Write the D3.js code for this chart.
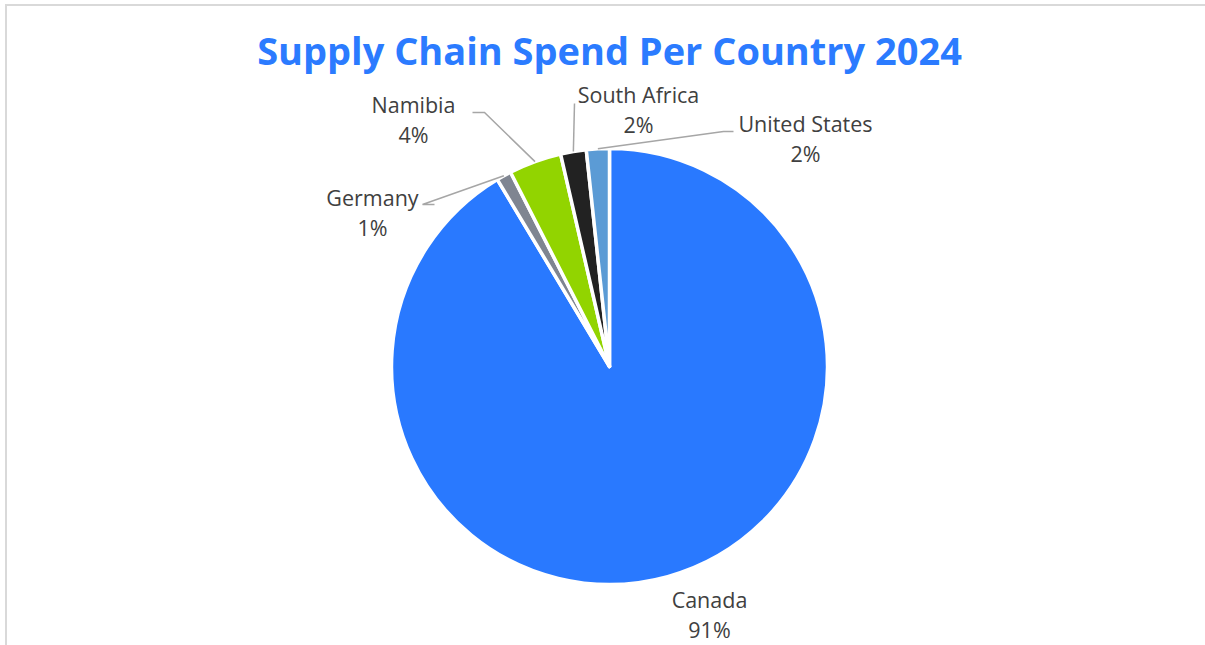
<!DOCTYPE html>
<html>
<head>
<meta charset="utf-8">
<script src="https://cdn.jsdelivr.net/npm/d3@7"></script>
<style>
  html, body { margin: 0; padding: 0; background: #fff; }
  svg { display: block; }
</style>
</head>
<body>
<svg id="chart" width="1205" height="645"></svg>
<script>
// ---- data ----
const title = "Supply Chain Spend Per Country 2024";
const countries = ["Canada", "Germany", "Namibia", "South Africa", "United States"];
const shares = [91.4, 1.1, 3.9, 1.9, 1.7];
const colors = ["#2979FF", "#7F8591", "#92D400", "#222222", "#5B9BD5"];

// ---- layout (label anchors relative to pie centre; not data) ----
const labelLayout = [
  { dx: 100, dy: 241, elbow: null },                  // Canada
  { dx: -237, dy: -161, end: [-175, -162], elbow: [-187, -162] }, // Germany
  { dx: -196, dy: -254, end: [-137, -254], elbow: [-125, -254] }, // Namibia
  { dx: 29, dy: -264, end: [-35, -263], elbow: [-35, -263] },     // South Africa
  { dx: 196, dy: -235, end: [124, -235], elbow: [114, -235] }     // United States
];

const W = 1205, H = 645;
const cx = 609.5, cy = 366.5, R = 218;
const svg = d3.select("#chart");

// chart border (only top and left visible in frame)
svg.append("rect")
  .attr("x", 6).attr("y", 5)
  .attr("width", W + 20).attr("height", H + 20)
  .attr("fill", "#fff").attr("stroke", "#d9d9d9").attr("stroke-width", 2);

// title
const t = svg.append("text")
  .attr("x", cx).attr("y", 65)
  .attr("text-anchor", "middle")
  .attr("font-family", "'Open Sans', 'Noto Sans', sans-serif")
  .attr("font-weight", 700)
  .attr("fill", "#2B7BFF")
  .attr("font-size", 38)
  .text(title);
const tw = t.node().getComputedTextLength();
t.attr("font-size", 38 * 705 / tw);

const data = countries.map((c, i) => ({ name: c, value: shares[i], color: colors[i], i }));
const pie = d3.pie().value(d => d.value).sort(null);
const arcs = pie(data);
const arc = d3.arc().innerRadius(0).outerRadius(R);

const g = svg.append("g").attr("transform", `translate(${cx},${cy})`);
g.selectAll("path.slice")
  .data(arcs)
  .enter().append("path")
  .attr("class", "slice")
  .attr("d", arc)
  .attr("fill", d => d.data.color)
  .attr("stroke", "#fff")
  .attr("stroke-width", 3.5)
  .attr("stroke-linejoin", "round");

// leader lines
arcs.forEach((a, i) => {
  const L = labelLayout[i];
  if (!L.end) return;
  const mid = (a.startAngle + a.endAngle) / 2;
  const px = R * Math.sin(mid), py = -R * Math.cos(mid);
  const pts = [L.end, L.elbow, [px, py]];
  g.append("path")
    .attr("d", d3.line()(pts))
    .attr("fill", "none")
    .attr("stroke", "#a6a6a6")
    .attr("stroke-width", 1.5);
});

// labels
const total = d3.sum(shares);
arcs.forEach((a, i) => {
  const L = labelLayout[i];
  const txt = g.append("text")
    .attr("text-anchor", "middle")
    .attr("font-family", "'Open Sans', 'Noto Sans', sans-serif")
    .attr("font-size", 21.5)
    .attr("fill", "#404040");
  txt.append("tspan").attr("x", L.dx).attr("y", L.dy).text(a.data.name);
  txt.append("tspan").attr("x", L.dx).attr("y", L.dy + 30)
    .text(Math.round(a.data.value / total * 100) + "%");
});
</script>
</body>
</html>
